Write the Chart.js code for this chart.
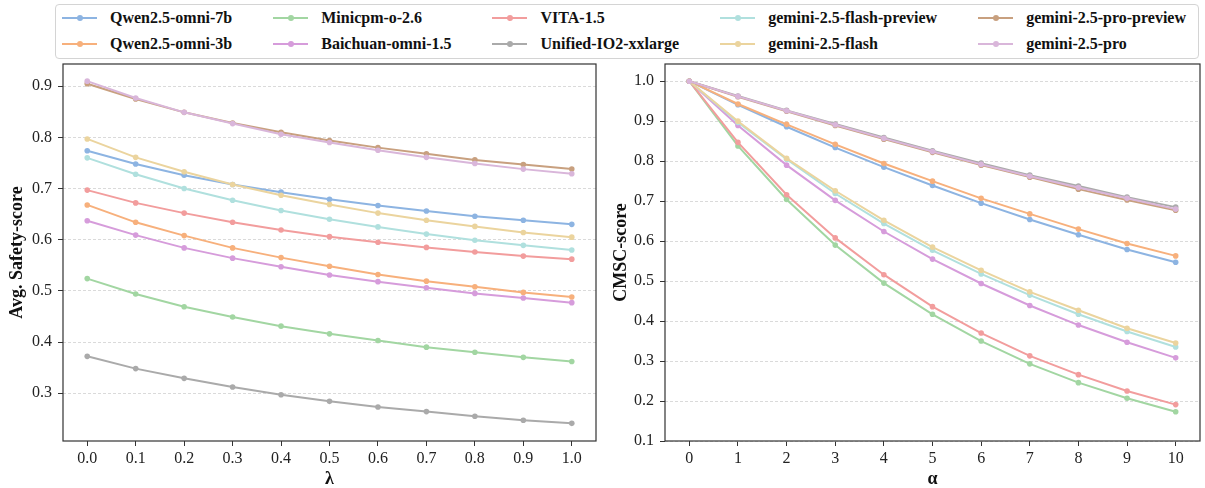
<!DOCTYPE html>
<html lang="en">
<head>
  <meta charset="UTF-8">
  <title>Avg. Safety-score and CMSC-score</title>
  <script src="https://cdn.jsdelivr.net/npm/chart.js"></script>
  <style>
    body { margin: 0; background: #fff; width: 1205px; height: 488px; position: relative; overflow: hidden;
           font-family: "Liberation Serif", "Times New Roman", serif; }
    #legend { position: absolute; left: 55px; top: 4px; width: 1144px; height: 55px; box-sizing: border-box;
              border: 1px solid #d4d4d4; border-radius: 4px; display: flex; padding: 3px 0 0 6px; column-gap: 41px; }
    .col { display: flex; flex-direction: column; row-gap: 6px; }
    .item { display: flex; align-items: center; font-weight: bold; font-size: 16px; height: 20px; white-space: nowrap; color: #111; }
    .swatch { position: relative; width: 35px; height: 2px; margin-right: 13px; }
    .swatch span { position: absolute; left: 14.5px; top: -2px; width: 6px; height: 6px; border-radius: 50%; }
    canvas { position: absolute; top: 60px; }
    #chartLambda { left: 0; }
    #chartAlpha { left: 600px; }
  </style>
</head>
<body>

  <div id="legend"></div>
  <canvas id="chartLambda" width="600" height="428"></canvas>
  <canvas id="chartAlpha" width="605" height="428"></canvas>

  <script>
    // models, in the order they are plotted (legend is column-major, 2 rows)
    const models = ['Qwen2.5-omni-7b', 'Qwen2.5-omni-3b', 'Minicpm-o-2.6', 'Baichuan-omni-1.5', 'VITA-1.5',
                    'Unified-IO2-xxlarge', 'gemini-2.5-flash-preview', 'gemini-2.5-flash', 'gemini-2.5-pro-preview', 'gemini-2.5-pro'];
    const colors = ['#8db4e2', '#f7b07c', '#a2d6a2', '#d69cdb', '#f29d9d',
                    '#aaaaaa', '#b0e0de', '#ebd49e', '#c8a07f', '#d9b6da'];

    // left panel: lambda
    const lambdas = [0.0, 0.1, 0.2, 0.3, 0.4, 0.5, 0.6, 0.7, 0.8, 0.9, 1.0];
    const lambdaYTicks = [0.3, 0.4, 0.5, 0.6, 0.7, 0.8, 0.9];
    const qwen7bL    = [0.774, 0.748, 0.726, 0.708, 0.693, 0.679, 0.667, 0.656, 0.646, 0.638, 0.630];
    const qwen3bL    = [0.668, 0.634, 0.608, 0.584, 0.565, 0.548, 0.532, 0.519, 0.508, 0.497, 0.488];
    const minicpmL   = [0.524, 0.494, 0.469, 0.449, 0.431, 0.416, 0.403, 0.390, 0.380, 0.370, 0.362];
    const baichuanL  = [0.637, 0.609, 0.584, 0.564, 0.547, 0.531, 0.518, 0.506, 0.495, 0.486, 0.477];
    const vitaL      = [0.697, 0.672, 0.652, 0.634, 0.619, 0.606, 0.595, 0.585, 0.576, 0.568, 0.562];
    const unifiedL   = [0.372, 0.348, 0.329, 0.312, 0.297, 0.284, 0.273, 0.264, 0.255, 0.247, 0.241];
    const flashPrevL = [0.760, 0.728, 0.700, 0.677, 0.657, 0.640, 0.625, 0.611, 0.599, 0.589, 0.580];
    const flashL     = [0.797, 0.761, 0.733, 0.708, 0.687, 0.669, 0.652, 0.638, 0.626, 0.614, 0.605];
    const proPrevL   = [0.905, 0.875, 0.849, 0.828, 0.810, 0.794, 0.780, 0.768, 0.756, 0.747, 0.738];
    const proL       = [0.910, 0.877, 0.849, 0.827, 0.806, 0.790, 0.775, 0.761, 0.749, 0.738, 0.729];

    // right panel: alpha
    const alphas = [0, 1, 2, 3, 4, 5, 6, 7, 8, 9, 10];
    const alphaYTicks = [0.1, 0.2, 0.3, 0.4, 0.5, 0.6, 0.7, 0.8, 0.9, 1.0];
    const qwen7bR    = [1.0, 0.941, 0.886, 0.834, 0.785, 0.739, 0.695, 0.654, 0.616, 0.579, 0.547];
    const qwen3bR    = [1.0, 0.943, 0.892, 0.842, 0.794, 0.750, 0.707, 0.668, 0.630, 0.594, 0.563];
    const minicpmR   = [1.0, 0.838, 0.704, 0.590, 0.495, 0.417, 0.350, 0.293, 0.246, 0.207, 0.173];
    const baichuanR  = [1.0, 0.889, 0.790, 0.702, 0.624, 0.555, 0.494, 0.439, 0.390, 0.347, 0.308];
    const vitaR      = [1.0, 0.847, 0.716, 0.608, 0.516, 0.436, 0.370, 0.313, 0.266, 0.225, 0.191];
    const unifiedR   = [1.0, 0.963, 0.927, 0.893, 0.859, 0.826, 0.795, 0.765, 0.738, 0.710, 0.685];
    const flashPrevR = [1.0, 0.897, 0.805, 0.719, 0.644, 0.577, 0.518, 0.465, 0.417, 0.374, 0.335];
    const flashR     = [1.0, 0.900, 0.807, 0.726, 0.652, 0.585, 0.527, 0.473, 0.427, 0.382, 0.345];
    const proPrevR   = [1.0, 0.961, 0.925, 0.889, 0.855, 0.822, 0.790, 0.760, 0.730, 0.703, 0.677];
    const proR       = [1.0, 0.962, 0.926, 0.891, 0.857, 0.824, 0.792, 0.762, 0.734, 0.707, 0.680];

    const seriesL = [qwen7bL, qwen3bL, minicpmL, baichuanL, vitaL, unifiedL, flashPrevL, flashL, proPrevL, proL];
    const seriesR = [qwen7bR, qwen3bR, minicpmR, baichuanR, vitaR, unifiedR, flashPrevR, flashR, proPrevR, proR];

    // legend (shared by both panels)
    const legend = document.getElementById('legend');
    for (let c = 0; c < models.length; c += 2) {
      const col = document.createElement('div');
      col.className = 'col';
      for (let i = c; i < c + 2; i++) {
        const item = document.createElement('div');
        item.className = 'item';
        item.innerHTML = `<div class="swatch" style="background:${colors[i]}"><span style="background:${colors[i]}"></span></div>${models[i]}`;
        col.appendChild(item);
      }
      legend.appendChild(col);
    }

    // box around the plot area
    const frame = {
      id: 'frame',
      afterDraw(chart) {
        const { ctx, chartArea: a } = chart;
        ctx.save();
        ctx.setLineDash([]);
        ctx.strokeStyle = '#333';
        ctx.lineWidth = 1.2;
        ctx.strokeRect(a.left, a.top, a.right - a.left, a.bottom - a.top);
        ctx.restore();
      }
    };

    const tickFont = { family: '"Liberation Serif", "Times New Roman", serif', size: 16 };
    const titleFont = { family: '"Liberation Serif", "Times New Roman", serif', size: 18, weight: 'bold', lineHeight: 1 };

    function makeChart(id, xs, series, opts) {
      const datasets = series.map((vals, i) => ({
        label: models[i],
        data: xs.map((x, j) => ({ x: x, y: vals[j] })),
        borderColor: colors[i],
        backgroundColor: colors[i],
        borderWidth: 2,
        pointRadius: 2.8,
        pointBorderWidth: 0,
        order: -i
      }));

      return new Chart(document.getElementById(id), {
        type: 'line',
        data: { datasets },
        plugins: [frame],
        options: {
          responsive: false,
          animation: false,
          devicePixelRatio: 1,
          layout: { padding: { top: 2, right: opts.padRight, left: 0, bottom: 0 } },
          plugins: { legend: { display: false }, tooltip: { enabled: false } },
          scales: {
            x: {
              type: 'linear',
              min: opts.xMin, max: opts.xMax,
              afterBuildTicks: s => { s.ticks = xs.map(v => ({ value: v })); },
              afterFit: s => { s.height = 47; s.paddingLeft = 0; s.paddingRight = 0; },
              ticks: { font: tickFont, color: '#222', padding: 3, maxRotation: 0, autoSkip: false, callback: opts.xFmt },
              grid: { drawOnChartArea: false, drawTicks: true, tickLength: 5, tickColor: '#333', tickWidth: 1 },
              border: { display: false },
              title: { display: true, text: opts.xTitle, font: titleFont, color: '#111', padding: { top: 0, bottom: 0 } }
            },
            y: {
              min: opts.yMin, max: opts.yMax,
              afterBuildTicks: s => { s.ticks = opts.yTicks.map(v => ({ value: v })); },
              afterFit: s => { s.width = opts.yWidth; s.paddingTop = 0; s.paddingBottom = 0; },
              ticks: { font: tickFont, color: '#222', padding: 6, autoSkip: false, callback: v => v.toFixed(1) },
              grid: { color: '#d0d0d0', lineWidth: 0.8, tickLength: 5, tickColor: '#333', tickWidth: 1 },
              border: { display: false, dash: [3, 2] },
              title: { display: true, text: opts.yTitle, font: titleFont, color: '#111', padding: { top: opts.yTitlePad, bottom: 0 } }
            }
          }
        }
      });
    }

    makeChart('chartLambda', lambdas, seriesL, {
      xMin: -0.05, xMax: 1.05, yMin: 0.2065, yMax: 0.9435, yTicks: lambdaYTicks,
      xFmt: v => v.toFixed(1), xTitle: 'λ', yTitle: 'Avg. Safety-score',
      yWidth: 63, padRight: 4, yTitlePad: 8
    });

    makeChart('chartAlpha', alphas, seriesR, {
      xMin: -0.5, xMax: 10.5, yMin: 0.1, yMax: 1.043, yTicks: alphaYTicks,
      xFmt: v => String(v), xTitle: 'α', yTitle: 'CMSC-score',
      yWidth: 65, padRight: 5, yTitlePad: 12
    });
  </script>
</body>
</html>
